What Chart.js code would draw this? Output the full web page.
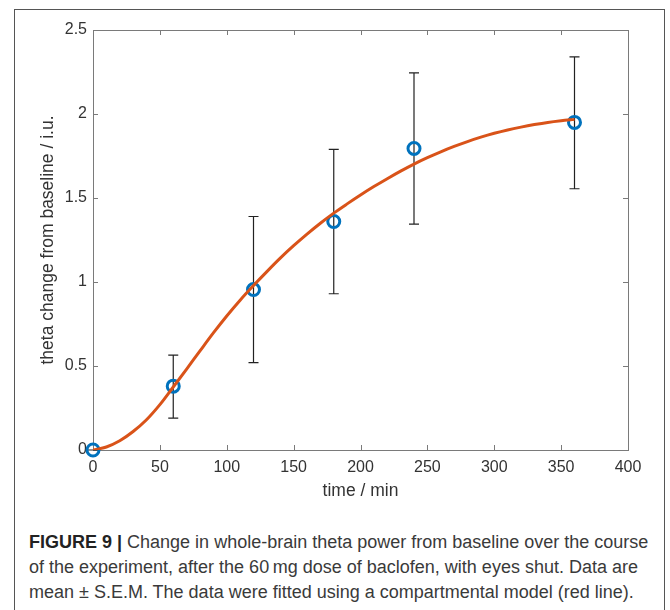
<!DOCTYPE html>
<html>
<head>
<meta charset="utf-8">
<script src="https://cdn.jsdelivr.net/npm/chart.js@4.4.0/dist/chart.umd.min.js"></script>
<style>
  html, body { margin: 0; padding: 0; background: #fff; }
  body { width: 670px; height: 610px; position: relative; overflow: hidden; }
  #frame { position: absolute; left: 14px; top: 9px; width: 651px; height: 640px;
    border: 1px solid #555; box-sizing: border-box; }
  #plot { position: absolute; left: 0; top: 0; }
  #caption { position: absolute; left: 29px; top: 530px; width: 636px;
    font: 18px "Liberation Sans", sans-serif; line-height: 25px; color: #3a3a3a; white-space: nowrap; }
  #caption b { font-weight: 700; color: #222; }
</style>
</head>
<body>
<div id="frame"></div>
<canvas id="plot" width="670" height="515"></canvas>
<div id="caption"><b>FIGURE 9 |</b> Change in whole-brain theta power from baseline over the course<br>of the experiment, after the 60&thinsp;mg dose of baclofen, with eyes shut. Data are<br>mean ± S.E.M. The data were fitted using a compartmental model (red line).</div>
<script>
// measured means (blue circles) with S.E.M. limits
const sampleTimes = [0, 60, 120, 180, 240, 360];
const thetaMean   = [0, 0.38, 0.955, 1.36, 1.795, 1.95];
const semLow      = [0, 0.19, 0.52, 0.93, 1.345, 1.555];
const semHigh     = [0, 0.565, 1.39, 1.79, 2.245, 2.34];

// compartmental model fit (red line)
const fitTimes = [0, 10, 20, 30, 40, 50, 60, 70, 80, 90, 100, 110, 120, 130, 140, 150, 160, 170, 180,
  190, 200, 210, 220, 230, 240, 250, 260, 270, 280, 290, 300, 310, 320, 330, 340, 350, 360];
const fitTheta = [0, 0.018, 0.055, 0.11, 0.18, 0.27, 0.375, 0.482, 0.59, 0.697, 0.798, 0.892, 0.979,
  1.062, 1.142, 1.216, 1.285, 1.35, 1.41, 1.465, 1.518, 1.568, 1.615, 1.66, 1.702, 1.74, 1.775, 1.807,
  1.836, 1.862, 1.885, 1.905, 1.922, 1.937, 1.95, 1.96, 1.968];

const xTicks = [0, 50, 100, 150, 200, 250, 300, 350, 400];
const yTicks = [0, 0.5, 1, 1.5, 2, 2.5];

const AXIS_GREY = '#7a7a7a';
const TEXT = '#333';

// matlab-style box with inward ticks on all four sides, plus the error bars
const axesBox = {
  id: 'axesBox',
  beforeDatasetsDraw(chart) {
    const { ctx, chartArea: a, scales: { x, y } } = chart;
    const tl = 5;
    ctx.save();
    ctx.strokeStyle = AXIS_GREY;
    ctx.lineWidth = 1;
    ctx.strokeRect(a.left + 0.5, a.top + 0.5, a.right - a.left, a.bottom - a.top);
    ctx.beginPath();
    xTicks.forEach(v => {
      const px = Math.round(x.getPixelForValue(v)) + 0.5;
      ctx.moveTo(px, a.bottom); ctx.lineTo(px, a.bottom - tl);
      ctx.moveTo(px, a.top); ctx.lineTo(px, a.top + tl);
    });
    yTicks.forEach(v => {
      const py = Math.round(y.getPixelForValue(v)) + 0.5;
      ctx.moveTo(a.left, py); ctx.lineTo(a.left + tl, py);
      ctx.moveTo(a.right, py); ctx.lineTo(a.right - tl, py);
    });
    ctx.stroke();

    ctx.strokeStyle = '#222';
    ctx.lineWidth = 1.2;
    ctx.beginPath();
    sampleTimes.forEach((t, i) => {
      const px = x.getPixelForValue(t);
      const y0 = y.getPixelForValue(semLow[i]);
      const y1 = y.getPixelForValue(semHigh[i]);
      ctx.moveTo(px, y0); ctx.lineTo(px, y1);
      ctx.moveTo(px - 5, y0); ctx.lineTo(px + 5, y0);
      ctx.moveTo(px - 5, y1); ctx.lineTo(px + 5, y1);
    });
    ctx.stroke();
    ctx.restore();
  }
};

new Chart(document.getElementById('plot'), {
  type: 'scatter',
  data: {
    datasets: [
      { label: 'fit', type: 'line', order: 0,
        data: fitTimes.map((t, i) => ({ x: t, y: fitTheta[i] })),
        borderColor: '#D95319', borderWidth: 3, pointRadius: 0,
        cubicInterpolationMode: 'monotone', fill: false },
      { label: 'mean', order: 1, clip: false,
        data: sampleTimes.map((t, i) => ({ x: t, y: thetaMean[i] })),
        pointRadius: 6, pointBorderWidth: 3, pointBorderColor: '#0072BD',
        pointBackgroundColor: 'rgba(0,0,0,0)' },
    ]
  },
  options: {
    responsive: false,
    animation: false,
    devicePixelRatio: 1,
    layout: { padding: { top: 30, right: 42, left: 0, bottom: 0 } },
    plugins: { legend: { display: false }, tooltip: { enabled: false } },
    scales: {
      x: {
        type: 'linear', min: 0, max: 400,
        afterBuildTicks: s => { s.ticks = xTicks.map(v => ({ value: v })); },
        afterFit: s => { s.height = 65; },
        grid: { display: false, drawTicks: false },
        border: { display: false },
        ticks: { color: TEXT, padding: 8, callback: v => String(v),
          font: { family: 'Liberation Sans', size: 16 } },
        title: { display: true, text: 'time / min', color: TEXT,
          font: { family: 'Liberation Sans', size: 17.5 }, padding: { top: 0, bottom: 13 } },
      },
      y: {
        type: 'linear', min: 0, max: 2.5,
        afterBuildTicks: s => { s.ticks = yTicks.map(v => ({ value: v })); },
        afterFit: s => { s.width = 93; },
        grid: { display: false, drawTicks: false },
        border: { display: false },
        ticks: { color: TEXT, padding: 6, callback: v => String(v),
          font: { family: 'Liberation Sans', size: 16 } },
        title: { display: true, text: 'theta change from baseline / i.u.', color: TEXT,
          font: { family: 'Liberation Sans', size: 17.5 }, padding: { top: 38, bottom: 0 } },
      },
    },
  },
  plugins: [axesBox],
});
</script>
</body>
</html>
